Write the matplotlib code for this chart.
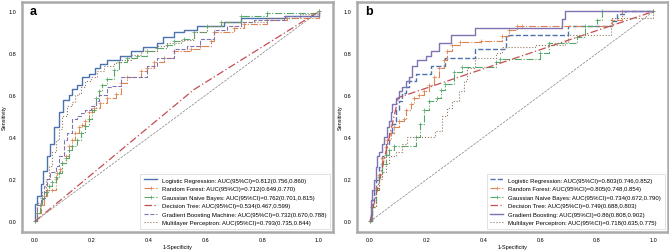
import matplotlib
matplotlib.use('Agg')
import matplotlib.pyplot as plt

plt.rcParams['font.family'] = ['Liberation Sans', 'DejaVu Sans']

# ---------- panel a ----------
a_lr_x = [0, 0.0, 0.008, 0.02, 0.028, 0.043, 0.055, 0.067, 0.085, 0.10, 0.12, 0.13, 0.15, 0.165, 0.19, 0.21, 0.23, 0.255, 0.30, 0.34, 0.38, 0.43, 0.45, 0.49, 0.525, 0.57, 0.665, 0.725, 0.88, 1.0]
a_lr_y = [0, 0.085, 0.12, 0.18, 0.24, 0.31, 0.37, 0.45, 0.52, 0.58, 0.60, 0.63, 0.65, 0.69, 0.70, 0.73, 0.75, 0.77, 0.79, 0.81, 0.83, 0.85, 0.88, 0.90, 0.91, 0.93, 0.95, 0.97, 0.98, 1.0]

a_rf_x = [0, 0.008, 0.02, 0.032, 0.043, 0.061, 0.073, 0.079, 0.09, 0.096, 0.108, 0.12, 0.131, 0.143, 0.155, 0.167, 0.178, 0.19, 0.208, 0.231, 0.255, 0.284, 0.302, 0.325, 0.372, 0.395, 0.419, 0.454, 0.489, 0.548, 0.583, 0.619, 0.63, 0.70, 0.736, 0.818, 0.888, 1.0]
a_rf_y = [0, 0.04, 0.076, 0.12, 0.15, 0.15, 0.20, 0.23, 0.25, 0.28, 0.31, 0.36, 0.39, 0.42, 0.45, 0.46, 0.48, 0.52, 0.54, 0.565, 0.59, 0.605, 0.66, 0.69, 0.715, 0.73, 0.76, 0.78, 0.81, 0.82, 0.835, 0.86, 0.90, 0.92, 0.94, 0.96, 0.97, 1.0]

a_gnb_x = [0, 0.008, 0.018, 0.026, 0.038, 0.049, 0.061, 0.073, 0.085, 0.096, 0.108, 0.12, 0.131, 0.149, 0.161, 0.178, 0.19, 0.202, 0.214, 0.225, 0.237, 0.255, 0.278, 0.296, 0.325, 0.36, 0.395, 0.431, 0.466, 0.489, 0.525, 0.56, 0.607, 0.654, 0.724, 0.818, 1.0]
a_gnb_y = [0, 0.04, 0.076, 0.11, 0.14, 0.17, 0.19, 0.21, 0.23, 0.28, 0.30, 0.34, 0.36, 0.39, 0.42, 0.455, 0.49, 0.53, 0.59, 0.62, 0.65, 0.68, 0.72, 0.76, 0.78, 0.79, 0.81, 0.825, 0.84, 0.86, 0.87, 0.90, 0.93, 0.95, 0.98, 0.995, 1.0]

a_dt_x = [0, 0.56, 1.0]
a_dt_y = [0, 0.628, 1.0]

a_gbm_x = [0, 0.008, 0.02, 0.032, 0.043, 0.055, 0.073, 0.085, 0.102, 0.114, 0.131, 0.149, 0.161, 0.178, 0.196, 0.214, 0.226, 0.255, 0.272, 0.302, 0.384, 0.396, 0.431, 0.489, 0.536, 0.583, 0.63, 0.677, 0.724, 0.771, 0.877, 1.0]
a_gbm_y = [0, 0.076, 0.107, 0.17, 0.20, 0.235, 0.265, 0.31, 0.39, 0.42, 0.49, 0.50, 0.515, 0.53, 0.55, 0.575, 0.60, 0.64, 0.645, 0.69, 0.69, 0.74, 0.78, 0.82, 0.835, 0.87, 0.91, 0.93, 0.95, 0.96, 0.98, 1.0]

a_mlp_x = [0, 0.008, 0.026, 0.038, 0.049, 0.061, 0.073, 0.085, 0.096, 0.114, 0.131, 0.143, 0.155, 0.161, 0.178, 0.196, 0.219, 0.243, 0.278, 0.302, 0.337, 0.372, 0.431, 0.466, 0.513, 0.56, 0.607, 0.654, 0.818, 0.935, 1.0]
a_mlp_y = [0, 0.09, 0.14, 0.20, 0.265, 0.33, 0.39, 0.44, 0.50, 0.55, 0.57, 0.60, 0.61, 0.64, 0.67, 0.69, 0.715, 0.74, 0.755, 0.77, 0.795, 0.81, 0.835, 0.85, 0.865, 0.90, 0.93, 0.95, 0.97, 0.99, 1.0]

a_labels = [
    'Logistic Regression: AUC(95%CI)=0.812(0.756,0.860)',
    'Random Forest: AUC(95%CI)=0.712(0.649,0.770)',
    'Gaussian Naive Bayes: AUC(95%CI)=0.762(0.701,0.815)',
    'Decision Tree: AUC(95%CI)=0.534(0.467,0.599)',
    'Gradient Boosting Machine: AUC(95%CI)=0.732(0.670,0.788)',
    'Multilayer Perceptron: AUC(95%CI)=0.793(0.735,0.844)',
]

# ---------- panel b ----------
b_lr_x = [0, 0.006, 0.014, 0.02, 0.032, 0.043, 0.055, 0.067, 0.079, 0.09, 0.102, 0.114, 0.126, 0.137, 0.161, 0.214, 0.266, 0.372, 0.478, 0.700, 0.853, 0.871, 0.900, 1.0]
b_lr_y = [0, 0.10, 0.15, 0.195, 0.26, 0.31, 0.37, 0.42, 0.465, 0.53, 0.575, 0.61, 0.64, 0.67, 0.70, 0.74, 0.78, 0.82, 0.89, 0.93, 0.955, 0.99, 1.0, 1.0]

b_rf_x = [0, 0.008, 0.02, 0.032, 0.043, 0.055, 0.061, 0.073, 0.085, 0.102, 0.12, 0.126, 0.143, 0.155, 0.173, 0.19, 0.208, 0.225, 0.243, 0.26, 0.272, 0.29, 0.319, 0.39, 0.466, 0.489, 0.519, 0.536, 0.853, 0.89, 1.0]
b_rf_y = [0, 0.07, 0.16, 0.22, 0.30, 0.355, 0.39, 0.42, 0.45, 0.48, 0.49, 0.53, 0.56, 0.59, 0.60, 0.62, 0.65, 0.69, 0.73, 0.77, 0.81, 0.84, 0.855, 0.86, 0.885, 0.91, 0.93, 0.93, 0.96, 1.0, 1.0]

b_gnb_x = [0, 0.008, 0.02, 0.032, 0.043, 0.055, 0.067, 0.085, 0.161, 0.178, 0.19, 0.208, 0.237, 0.249, 0.266, 0.296, 0.325, 0.444, 0.46, 0.60, 0.63, 0.73, 0.76, 0.80, 0.82, 1.0]
b_gnb_y = [0, 0.07, 0.15, 0.21, 0.275, 0.315, 0.34, 0.36, 0.40, 0.465, 0.53, 0.575, 0.59, 0.625, 0.655, 0.71, 0.735, 0.76, 0.775, 0.80, 0.85, 0.88, 0.93, 0.96, 1.0, 1.0]

b_dt_x = [0, 0.10, 1.0]
b_dt_y = [0, 0.59, 1.0]

b_gb_x = [0, 0.002, 0.008, 0.014, 0.02, 0.026, 0.032, 0.043, 0.049, 0.061, 0.067, 0.073, 0.079, 0.09, 0.102, 0.114, 0.126, 0.137, 0.149, 0.167, 0.196, 0.214, 0.243, 0.284, 0.372, 0.677, 0.689, 1.0]
b_gb_y = [0, 0.10, 0.15, 0.195, 0.26, 0.31, 0.33, 0.37, 0.40, 0.45, 0.48, 0.52, 0.56, 0.59, 0.62, 0.64, 0.67, 0.69, 0.74, 0.77, 0.79, 0.81, 0.85, 0.89, 0.92, 0.965, 1.0, 1.0]

b_mlp_x = [0, 0.008, 0.02, 0.032, 0.043, 0.055, 0.067, 0.09, 0.114, 0.131, 0.219, 0.231, 0.255, 0.272, 0.29, 0.313, 0.331, 0.343, 0.372, 0.443, 0.466, 0.583, 0.689, 0.70, 0.84, 0.85, 1.0]
b_mlp_y = [0, 0.07, 0.15, 0.20, 0.235, 0.275, 0.31, 0.33, 0.37, 0.40, 0.40, 0.43, 0.50, 0.54, 0.575, 0.62, 0.67, 0.73, 0.78, 0.80, 0.83, 0.84, 0.855, 0.89, 0.89, 0.97, 1.0]

b_labels = [
    'Logistic Regression: AUC(95%CI)=0.803(0.746,0.852)',
    'Random Forest: AUC(95%CI)=0.805(0.748,0.854)',
    'Gaussian Naive Bayes: AUC(95%CI)=0.734(0.672,0.790)',
    'Decision Tree: AUC(95%CI)=0.749(0.688,0.803)',
    'Gradient Boosting: AUC(95%CI)=0.86(0.808,0.902)',
    'Multilayer Perceptron: AUC(95%CI)=0.718(0.635,0.775)',
]

blue, orange, green, red, purple, brown = '#4C72B0', '#DD8452', '#55A868', '#C44E52', '#8172B3', '#937860'

fig = plt.figure(figsize=(6.69, 2.51), dpi=100)
ax1 = fig.add_axes([0.033, 0.072, 0.465, 0.916])
ax2 = fig.add_axes([0.534, 0.072, 0.464, 0.916])


def roc(ax, x, y, label, color, ls, lw=0.8, marker=None, steps=True):
    ax.plot(x, y, color=color, linestyle=ls, linewidth=lw, marker=marker, markersize=2.5,
            markeredgewidth=0.5, drawstyle='steps-post' if steps else 'default', label=label)


roc(ax1, a_lr_x, a_lr_y, a_labels[0], blue, '-', 1.0)
roc(ax1, a_rf_x, a_rf_y, a_labels[1], orange, '-.', marker='+')
roc(ax1, a_gnb_x, a_gnb_y, a_labels[2], green, '-.', marker='+')
roc(ax1, a_dt_x, a_dt_y, a_labels[3], red, (0, (6, 2, 1, 2)), 0.9, steps=False)
roc(ax1, a_gbm_x, a_gbm_y, a_labels[4], purple, '--')
roc(ax1, a_mlp_x, a_mlp_y, a_labels[5], brown, ':')

roc(ax2, b_lr_x, b_lr_y, b_labels[0], blue, '--', 1.0)
roc(ax2, b_rf_x, b_rf_y, b_labels[1], orange, '-.', marker='+')
roc(ax2, b_gnb_x, b_gnb_y, b_labels[2], green, '-.', marker='+')
roc(ax2, b_dt_x, b_dt_y, b_labels[3], red, (0, (6, 2, 1, 2)), 0.9, steps=False)
roc(ax2, b_gb_x, b_gb_y, b_labels[4], purple, '-', 1.0)
roc(ax2, b_mlp_x, b_mlp_y, b_labels[5], brown, ':')

for ax, tag in [(ax1, 'a'), (ax2, 'b')]:
    ax.plot([0, 1], [0, 1], color='gray', linestyle='--', linewidth=0.5)
    ax.set_xlim(-0.045, 1.05)
    ax.set_ylim(-0.05, 1.045)
    ax.set_xticks([0, 0.2, 0.4, 0.6, 0.8, 1.0])
    ax.set_yticks([0, 0.2, 0.4, 0.6, 0.8, 1.0])
    ax.tick_params(labelsize=4, length=0, pad=4)
    ax.set_xlabel('1-Specificity', fontsize=4, labelpad=1)
    ax.set_ylabel('Sensitivity', fontsize=4, labelpad=1)
    for s in ax.spines.values():
        s.set_color('#aaaaaa')
        s.set_linewidth(1.8)
    ax.text(0.025, 0.985, tag, transform=ax.transAxes, fontsize=9, fontweight='bold',
            va='top', ha='left')
    leg = ax.legend(loc='lower right', fontsize=4.35, frameon=True, fancybox=False,
                    edgecolor='#cccccc', handlelength=2.2, borderpad=0.6, labelspacing=0.55)
    leg.get_frame().set_linewidth(0.5)

fig.savefig('out.png', dpi=100)
